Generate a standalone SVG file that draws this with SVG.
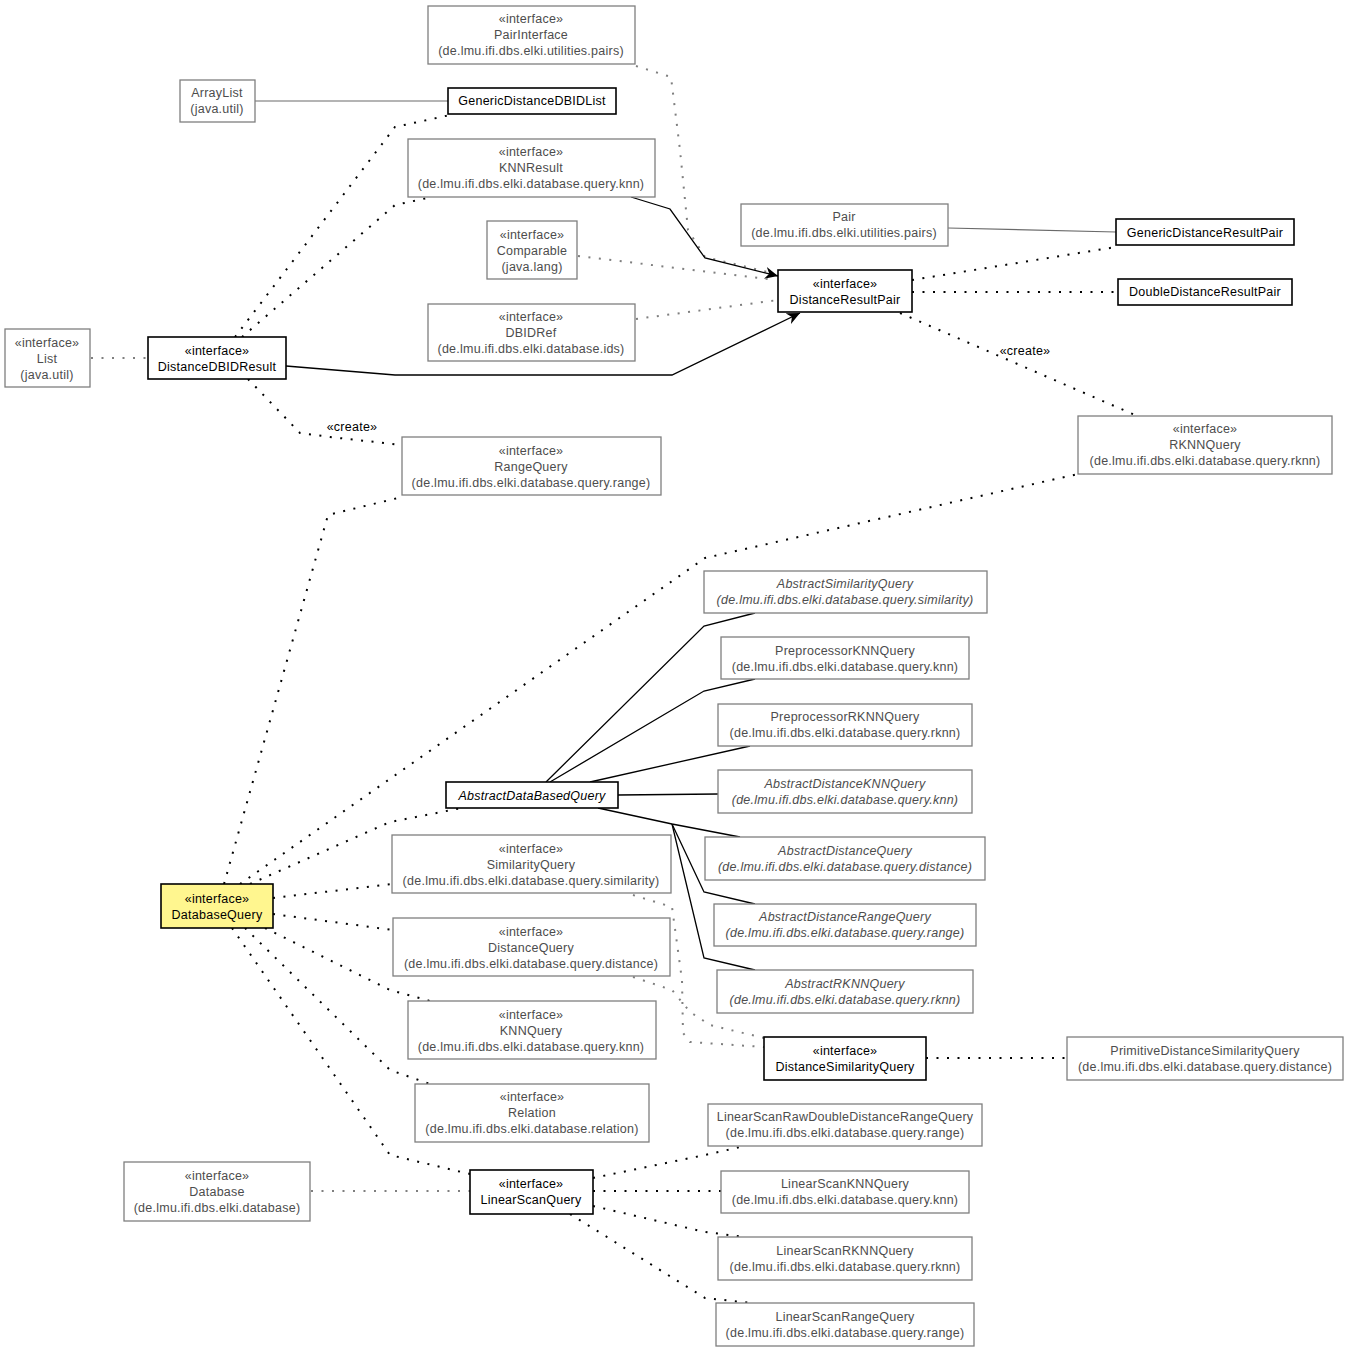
<svg xmlns="http://www.w3.org/2000/svg" width="1349" height="1352" viewBox="0 0 1349 1352">
<style>
text{font-family:"Liberation Sans",Arial,sans-serif;font-size:12.5px;text-anchor:middle;letter-spacing:0.25px}
.g rect{fill:#fff;stroke:#7f7f7f;stroke-width:1.3}
.g text{fill:#4d4d4d}
.b rect{fill:#fff;stroke:#000;stroke-width:1.6}
.b text{fill:#000}
.y rect{fill:#fff68f}
.it{font-style:italic}
.dot{fill:none;stroke:#000;stroke-width:2;stroke-dasharray:2,8.5}
.gdot{fill:none;stroke:#7f7f7f;stroke-width:2;stroke-dasharray:2,8.5}
.sol{fill:none;stroke:#000;stroke-width:1.3}
.gsol{fill:none;stroke:#6a6a6a;stroke-width:1.2}
.lbl{fill:#000}
</style>
<defs>
<marker id="arr" markerWidth="14" markerHeight="12" refX="13" refY="6" orient="auto" markerUnits="userSpaceOnUse">
<path d="M0,0 L13,6 L0,12 L4,6 z" fill="#000"/>
</marker>
</defs>
<rect width="1349" height="1352" fill="#fff"/>
<g id="connectors">
<polyline class="gdot" points="636,66 671,77 680,150 688,230 705,257 772,273"/>
<polyline class="sol" points="631,197 670,209 705,258 778,276" marker-end="url(#arr)"/>
<polyline class="gdot" points="578,256 775,280"/>
<polyline class="gdot" points="636,319 778,300"/>
<polyline class="sol" points="286,366 395,375 672,375 800,313" marker-end="url(#arr)"/>
<polyline class="gsol" points="948,228 1116,232"/>
<polyline class="gsol" points="255,101 448,101"/>
<polyline class="dot" points="912,280 1116,247"/>
<polyline class="dot" points="912,292 1118,292"/>
<polyline class="dot" points="900,313 1135,415"/>
<polyline class="dot" points="235,337 395,127 450,115"/>
<polyline class="dot" points="242,337 395,205 432,197"/>
<polyline class="gdot" points="91,358 148,358"/>
<polyline class="dot" points="248,379 300,433 330,437 402,445"/>
<polyline class="dot" points="224,884 328,515 402,497"/>
<polyline class="dot" points="240,884 705,558 1078,474"/>
<polyline class="dot" points="250,884 390,822 462,808"/>
<polyline class="dot" points="273,898 392,884"/>
<polyline class="dot" points="273,914 393,930"/>
<polyline class="dot" points="265,928 390,990 430,1001"/>
<polyline class="dot" points="245,928 390,1070 430,1084"/>
<polyline class="dot" points="232,928 390,1155 470,1174"/>
<polyline class="sol" points="546,782 704,626 755,613"/>
<polyline class="sol" points="550,782 704,691 755,679"/>
<polyline class="sol" points="590,782 750,746"/>
<polyline class="sol" points="618,795 718,794"/>
<polyline class="sol" points="598,808 672,824 740,837"/>
<polyline class="sol" points="672,824 704,892 755,904"/>
<polyline class="sol" points="672,824 704,958 755,970"/>
<polyline class="dot" points="926,1058 1067,1058"/>
<polyline class="gdot" points="633,895 672,907 682,980 683,1033 690,1042 764,1047"/>
<polyline class="gdot" points="633,977 672,990 690,1012 710,1025 764,1038"/>
<polyline class="gdot" points="311,1191 470,1191"/>
<polyline class="dot" points="593,1178 705,1155 745,1146"/>
<polyline class="dot" points="593,1191 721,1191"/>
<polyline class="dot" points="593,1206 705,1232 745,1237"/>
<polyline class="dot" points="570,1214 705,1298 752,1303"/>
<text class="lbl" x="352" y="431">«create»</text>
<text class="lbl" x="1025" y="355">«create»</text>
</g>
<g id="PairInterface" class="g"><rect x="428" y="6" width="207" height="58"/><text x="531" y="23">«interface»</text><text x="531" y="39">PairInterface</text><text x="531" y="55">(de.lmu.ifi.dbs.elki.utilities.pairs)</text></g>
<g id="ArrayList" class="g"><rect x="180" y="80" width="75" height="42"/><text x="217" y="97">ArrayList</text><text x="217" y="113">(java.util)</text></g>
<g id="GenericDistanceDBIDList" class="b"><rect x="448" y="88" width="168" height="26"/><text x="532" y="105">GenericDistanceDBIDList</text></g>
<g id="KNNResult" class="g"><rect x="408" y="139" width="247" height="58"/><text x="531" y="156">«interface»</text><text x="531" y="172">KNNResult</text><text x="531" y="188">(de.lmu.ifi.dbs.elki.database.query.knn)</text></g>
<g id="Comparable" class="g"><rect x="487" y="221" width="90" height="58"/><text x="532" y="239">«interface»</text><text x="532" y="255">Comparable</text><text x="532" y="271">(java.lang)</text></g>
<g id="Pair" class="g"><rect x="741" y="204" width="207" height="42"/><text x="844" y="221">Pair</text><text x="844" y="237">(de.lmu.ifi.dbs.elki.utilities.pairs)</text></g>
<g id="GenericDistanceResultPair" class="b"><rect x="1116" y="219" width="178" height="26"/><text x="1205" y="237">GenericDistanceResultPair</text></g>
<g id="DistanceResultPair" class="b"><rect x="778" y="270" width="134" height="42"/><text x="845" y="288">«interface»</text><text x="845" y="304">DistanceResultPair</text></g>
<g id="DoubleDistanceResultPair" class="b"><rect x="1118" y="279" width="174" height="26"/><text x="1205" y="296">DoubleDistanceResultPair</text></g>
<g id="DBIDRef" class="g"><rect x="428" y="304" width="207" height="57"/><text x="531" y="321">«interface»</text><text x="531" y="337">DBIDRef</text><text x="531" y="353">(de.lmu.ifi.dbs.elki.database.ids)</text></g>
<g id="List" class="g"><rect x="5" y="329" width="85" height="58"/><text x="47" y="347">«interface»</text><text x="47" y="363">List</text><text x="47" y="379">(java.util)</text></g>
<g id="DistanceDBIDResult" class="b"><rect x="148" y="337" width="138" height="42"/><text x="217" y="355">«interface»</text><text x="217" y="371">DistanceDBIDResult</text></g>
<g id="RangeQuery" class="g"><rect x="402" y="437" width="259" height="58"/><text x="531" y="455">«interface»</text><text x="531" y="471">RangeQuery</text><text x="531" y="487">(de.lmu.ifi.dbs.elki.database.query.range)</text></g>
<g id="RKNNQuery" class="g"><rect x="1078" y="416" width="254" height="58"/><text x="1205" y="433">«interface»</text><text x="1205" y="449">RKNNQuery</text><text x="1205" y="465">(de.lmu.ifi.dbs.elki.database.query.rknn)</text></g>
<g id="AbstractSimilarityQuery" class="g"><rect x="704" y="571" width="283" height="42"/><text class="it" x="845" y="588">AbstractSimilarityQuery</text><text class="it" x="845" y="604">(de.lmu.ifi.dbs.elki.database.query.similarity)</text></g>
<g id="PreprocessorKNNQuery" class="g"><rect x="721" y="637" width="248" height="42"/><text x="845" y="655">PreprocessorKNNQuery</text><text x="845" y="671">(de.lmu.ifi.dbs.elki.database.query.knn)</text></g>
<g id="PreprocessorRKNNQuery" class="g"><rect x="718" y="704" width="254" height="42"/><text x="845" y="721">PreprocessorRKNNQuery</text><text x="845" y="737">(de.lmu.ifi.dbs.elki.database.query.rknn)</text></g>
<g id="AbstractDistanceKNNQuery" class="g"><rect x="718" y="770" width="254" height="43"/><text class="it" x="845" y="788">AbstractDistanceKNNQuery</text><text class="it" x="845" y="804">(de.lmu.ifi.dbs.elki.database.query.knn)</text></g>
<g id="AbstractDataBasedQuery" class="b"><rect x="446" y="782" width="172" height="26"/><text class="it" x="532" y="800">AbstractDataBasedQuery</text></g>
<g id="AbstractDistanceQuery" class="g"><rect x="705" y="837" width="280" height="43"/><text class="it" x="845" y="855">AbstractDistanceQuery</text><text class="it" x="845" y="871">(de.lmu.ifi.dbs.elki.database.query.distance)</text></g>
<g id="SimilarityQuery" class="g"><rect x="392" y="835" width="279" height="58"/><text x="531" y="853">«interface»</text><text x="531" y="869">SimilarityQuery</text><text x="531" y="885">(de.lmu.ifi.dbs.elki.database.query.similarity)</text></g>
<g id="DatabaseQuery" class="b y"><rect x="161" y="884" width="112" height="44"/><text x="217" y="903">«interface»</text><text x="217" y="919">DatabaseQuery</text></g>
<g id="AbstractDistanceRangeQuery" class="g"><rect x="714" y="904" width="262" height="42"/><text class="it" x="845" y="921">AbstractDistanceRangeQuery</text><text class="it" x="845" y="937">(de.lmu.ifi.dbs.elki.database.query.range)</text></g>
<g id="DistanceQuery" class="g"><rect x="393" y="918" width="277" height="58"/><text x="531" y="936">«interface»</text><text x="531" y="952">DistanceQuery</text><text x="531" y="968">(de.lmu.ifi.dbs.elki.database.query.distance)</text></g>
<g id="AbstractRKNNQuery" class="g"><rect x="717" y="970" width="256" height="43"/><text class="it" x="845" y="988">AbstractRKNNQuery</text><text class="it" x="845" y="1004">(de.lmu.ifi.dbs.elki.database.query.rknn)</text></g>
<g id="KNNQuery" class="g"><rect x="408" y="1001" width="248" height="58"/><text x="531" y="1019">«interface»</text><text x="531" y="1035">KNNQuery</text><text x="531" y="1051">(de.lmu.ifi.dbs.elki.database.query.knn)</text></g>
<g id="DistanceSimilarityQuery" class="b"><rect x="764" y="1037" width="162" height="43"/><text x="845" y="1055">«interface»</text><text x="845" y="1071">DistanceSimilarityQuery</text></g>
<g id="PrimitiveDistanceSimilarityQuery" class="g"><rect x="1067" y="1037" width="276" height="43"/><text x="1205" y="1055">PrimitiveDistanceSimilarityQuery</text><text x="1205" y="1071">(de.lmu.ifi.dbs.elki.database.query.distance)</text></g>
<g id="Relation" class="g"><rect x="415" y="1084" width="234" height="58"/><text x="532" y="1101">«interface»</text><text x="532" y="1117">Relation</text><text x="532" y="1133">(de.lmu.ifi.dbs.elki.database.relation)</text></g>
<g id="LinearScanRawDoubleDistanceRangeQuery" class="g"><rect x="708" y="1104" width="274" height="42"/><text x="845" y="1121">LinearScanRawDoubleDistanceRangeQuery</text><text x="845" y="1137">(de.lmu.ifi.dbs.elki.database.query.range)</text></g>
<g id="Database" class="g"><rect x="124" y="1162" width="186" height="59"/><text x="217" y="1180">«interface»</text><text x="217" y="1196">Database</text><text x="217" y="1212">(de.lmu.ifi.dbs.elki.database)</text></g>
<g id="LinearScanQuery" class="b"><rect x="470" y="1170" width="123" height="44"/><text x="531" y="1188">«interface»</text><text x="531" y="1204">LinearScanQuery</text></g>
<g id="LinearScanKNNQuery" class="g"><rect x="721" y="1171" width="248" height="42"/><text x="845" y="1188">LinearScanKNNQuery</text><text x="845" y="1204">(de.lmu.ifi.dbs.elki.database.query.knn)</text></g>
<g id="LinearScanRKNNQuery" class="g"><rect x="718" y="1237" width="254" height="43"/><text x="845" y="1255">LinearScanRKNNQuery</text><text x="845" y="1271">(de.lmu.ifi.dbs.elki.database.query.rknn)</text></g>
<g id="LinearScanRangeQuery" class="g"><rect x="716" y="1303" width="258" height="43"/><text x="845" y="1321">LinearScanRangeQuery</text><text x="845" y="1337">(de.lmu.ifi.dbs.elki.database.query.range)</text></g>
</svg>
